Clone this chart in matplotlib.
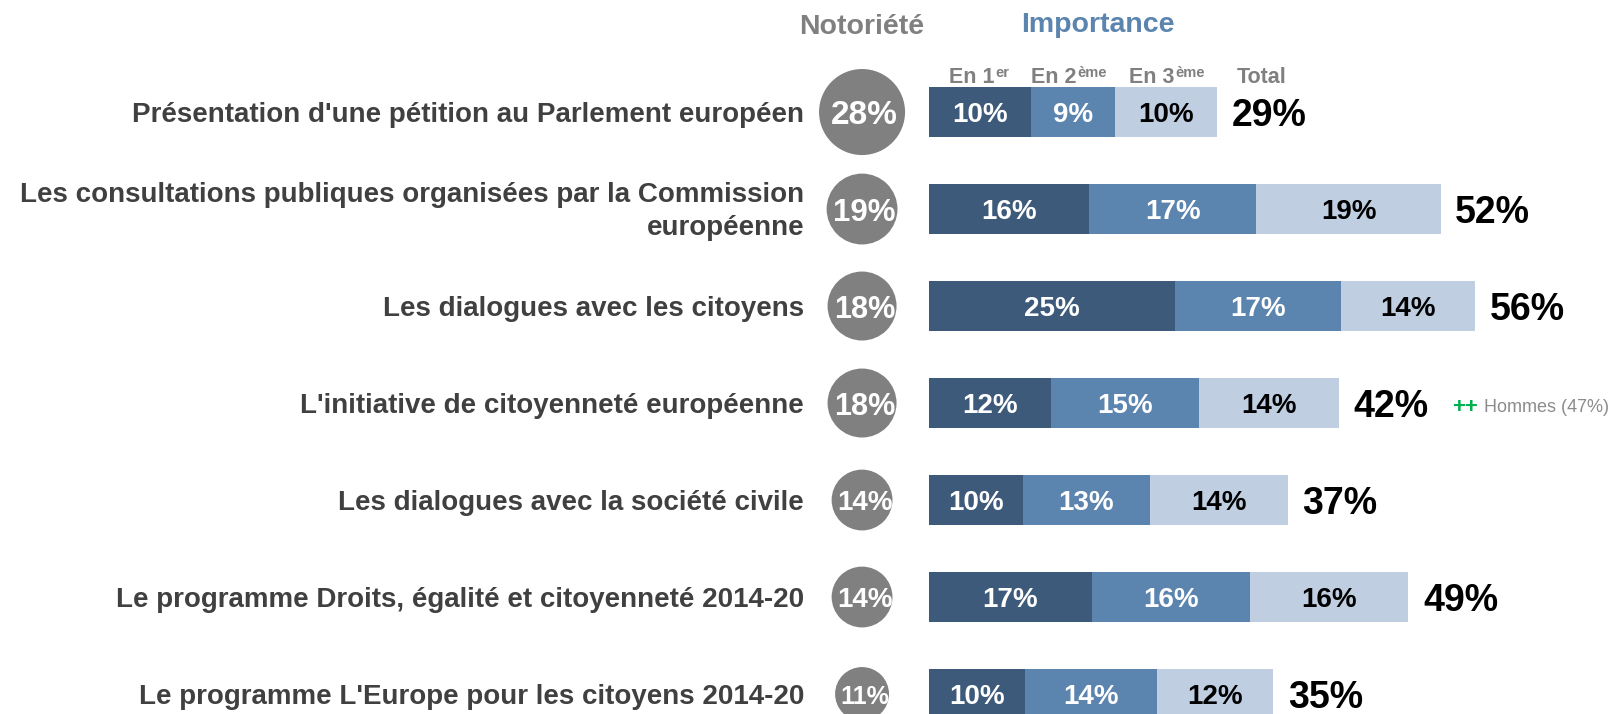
import matplotlib
matplotlib.use("Agg")
import matplotlib.pyplot as plt

plt.rcParams['font.family'] = ['Liberation Sans', 'DejaVu Sans']

# ---------------- data ----------------
categories = [
    "Présentation d'une pétition au Parlement européen",
    "Les consultations publiques organisées par la Commission\neuropéenne",
    "Les dialogues avec les citoyens",
    "L'initiative de citoyenneté européenne",
    "Les dialogues avec la société civile",
    "Le programme Droits, égalité et citoyenneté 2014-20",
    "Le programme L'Europe pour les citoyens 2014-20",
]
notoriete = [28, 19, 18, 18, 14, 14, 11]
en_1er = [10.4, 16.3, 25.1, 12.4, 9.6, 16.6, 9.8]
en_2eme = [8.6, 17.1, 16.9, 15.1, 12.9, 16.1, 13.5]
en_3eme = [10.4, 18.8, 13.7, 14.3, 14.1, 16.2, 11.8]
total = [29, 52, 56, 42, 37, 49, 35]
note_row = 3
note_sign = "++"
note_text = "Hommes (47%)"

header_left = "Notoriété"
header_right = "Importance"
sub_main = ["En 1", "En 2", "En 3", "Total"]
sub_sup = ["er", "ème", "ème", ""]

# ---------------- style ----------------
c_dark, c_mid, c_light = "#3D5A7B", "#5B84AF", "#BFCFE1"
c_grey = "#808080"
c_label = "#404040"
circle_fs = [24, 22.5, 22, 22, 20, 20, 18]

fig = plt.figure(figsize=(16.21, 7.14), dpi=100)
ax = fig.add_axes([0, 0, 1, 1])
ax.set_xlim(-94.8, 70.6)
ax.set_ylim(6.206, -1.155)
ax.axis('off')

rows = list(range(len(categories)))
bh = 0.51

segs = [(en_1er, c_dark, "white"), (en_2eme, c_mid, "white"), (en_3eme, c_light, "black")]
left = [0.0] * len(rows)
for vals, col, tcol in segs:
    ax.barh(rows, vals, left=left, height=bh, color=col, edgecolor='none')
    for r, v, l in zip(rows, vals, left):
        ax.text(l + v / 2, r, f"{int(v + 0.5)}%", ha='center', va='center_baseline',
                color=tcol, fontsize=20, fontweight='bold')
    left = [l + v for l, v in zip(left, vals)]

totals_txt = []
for r, l, t in zip(rows, left, total):
    tt = ax.annotate(f"{t}%", xy=(l, r), xytext=(10.5, 0), textcoords='offset points',
                     ha='left', va='center_baseline', fontsize=27, fontweight='bold',
                     color='black')
    totals_txt.append(tt)

# notoriety circles
circ_x = -6.84
ax.scatter([circ_x] * len(rows), rows, s=[137 * v for v in notoriete],
           color=c_grey, linewidths=0, zorder=3)
for r, v, fs in zip(rows, notoriete, circle_fs):
    ax.text(circ_x + 0.25, r, f"{v}%", ha='center', va='center_baseline', color='white',
            fontsize=fs, fontweight='bold', zorder=4)

# category labels
for r, c in zip(rows, categories):
    if "\n" in c:
        ax.text(-12.76, r + 0.03, c, ha='right', va='center', multialignment='right',
                color=c_label, fontsize=20, fontweight='bold', linespacing=1.35)
    else:
        ax.text(-12.76, r, c, ha='right', va='center_baseline',
                color=c_label, fontsize=20, fontweight='bold')

# note
pp = ax.annotate(note_sign, xy=(1, 0.5), xycoords=totals_txt[note_row], xytext=(17, 0),
                 textcoords='offset points', ha='left', va='center',
                 color="#00B050", fontsize=16, fontweight='bold')
ax.annotate(note_text, xy=(1, 0.5), xycoords=pp, xytext=(4.5, 0),
            textcoords='offset points', ha='left', va='center',
            color="#8C8C8C", fontsize=13)

# headers
ax.text(circ_x, -0.80, header_left, ha='center', va='baseline', color=c_grey,
        fontsize=20.5, fontweight='bold')
ax.text(17.2, -0.829, header_right, ha='center', va='baseline', color=c_mid,
        fontsize=20.5, fontweight='bold')
sub_x = [4.39, 12.71, 22.76, 33.88]
for x, m, s in zip(sub_x, sub_main, sub_sup):
    mt = ax.text(x, -0.295, m, ha='center', va='baseline', color=c_grey,
                 fontsize=15.5, fontweight='bold')
    if s:
        ax.annotate(s, xy=(1, 1), xycoords=mt, xytext=(0.5, 1),
                    textcoords='offset points', ha='left', va='top',
                    color=c_grey, fontsize=10.5, fontweight='bold')

fig.savefig("out.png", dpi=100)
